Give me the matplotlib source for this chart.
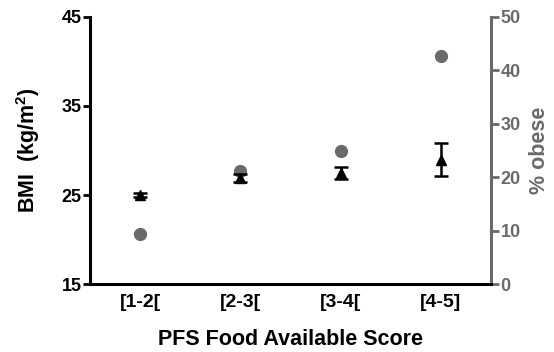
import matplotlib.pyplot as plt
import numpy as np

plt.rcParams['font.family'] = ['Liberation Sans', 'DejaVu Sans']
plt.rcParams['font.weight'] = 'bold'
plt.rcParams['mathtext.fontset'] = 'custom'
plt.rcParams['mathtext.rm'] = 'Liberation Sans:bold'
plt.rcParams['mathtext.it'] = 'Liberation Sans:bold'
plt.rcParams['mathtext.bf'] = 'Liberation Sans:bold'

categories = ['[1-2[', '[2-3[', '[3-4[', '[4-5]']
bmi_mean = [25.0, 26.9, 27.5, 28.95]
bmi_err = [0.2, 0.45, 0.7, 1.85]
pct_obese = [9.4, 21.2, 24.9, 42.7]

grey = '#6a6a6a'
x = np.arange(1, len(categories) + 1)

fig = plt.figure(figsize=(5.54, 3.52), dpi=100)
ax = fig.add_axes([0.1625, 0.193, 0.7235, 0.759])
ax2 = ax.twinx()

ax2.plot(x, pct_obese, 'o', color=grey, markersize=8.5, linestyle='none')
ax.errorbar(x, bmi_mean, yerr=bmi_err, fmt='^', color='black', markersize=7,
            capsize=5, elinewidth=1.8, capthick=1.8)

ax.set_zorder(ax2.get_zorder() + 1)
ax.patch.set_visible(False)

ax.set_xlim(0.5, 4.5)
ax.set_ylim(15, 45)
ax.set_yticks([15, 25, 35, 45])
ax2.set_ylim(0, 50)
ax2.set_yticks([0, 10, 20, 30, 40, 50])

ax.set_xticks(x)
ax.set_xticklabels(categories, fontsize=14, fontweight='bold')
ax.tick_params(axis='x', length=0, pad=7)
ax.tick_params(axis='y', direction='out', length=5, width=2, labelsize=13, pad=1)
ax2.tick_params(axis='y', direction='out', length=6, width=2, labelsize=13,
                colors=grey, pad=1)
for lab in ax.get_yticklabels() + ax2.get_yticklabels():
    lab.set_fontweight('bold')

for a in (ax, ax2):
    a.spines['top'].set_visible(False)
ax.spines['right'].set_visible(False)
ax2.spines['left'].set_visible(False)
ax2.spines['bottom'].set_visible(False)
ax.spines['left'].set_linewidth(2.2)
ax.spines['bottom'].set_linewidth(2.2)
ax2.spines['right'].set_linewidth(2.2)
ax2.spines['right'].set_color(grey)

ax.set_xlabel('PFS Food Available Score', fontsize=15.5, fontweight='bold', labelpad=13)
ax.set_ylabel('BMI  (kg/m$^{2}$)', fontsize=15.5, fontweight='bold', labelpad=14)
ax2.set_ylabel('% obese', fontsize=15.5, fontweight='bold', color=grey,
               rotation=90, labelpad=6)

fig.savefig('out.png', dpi=100)
